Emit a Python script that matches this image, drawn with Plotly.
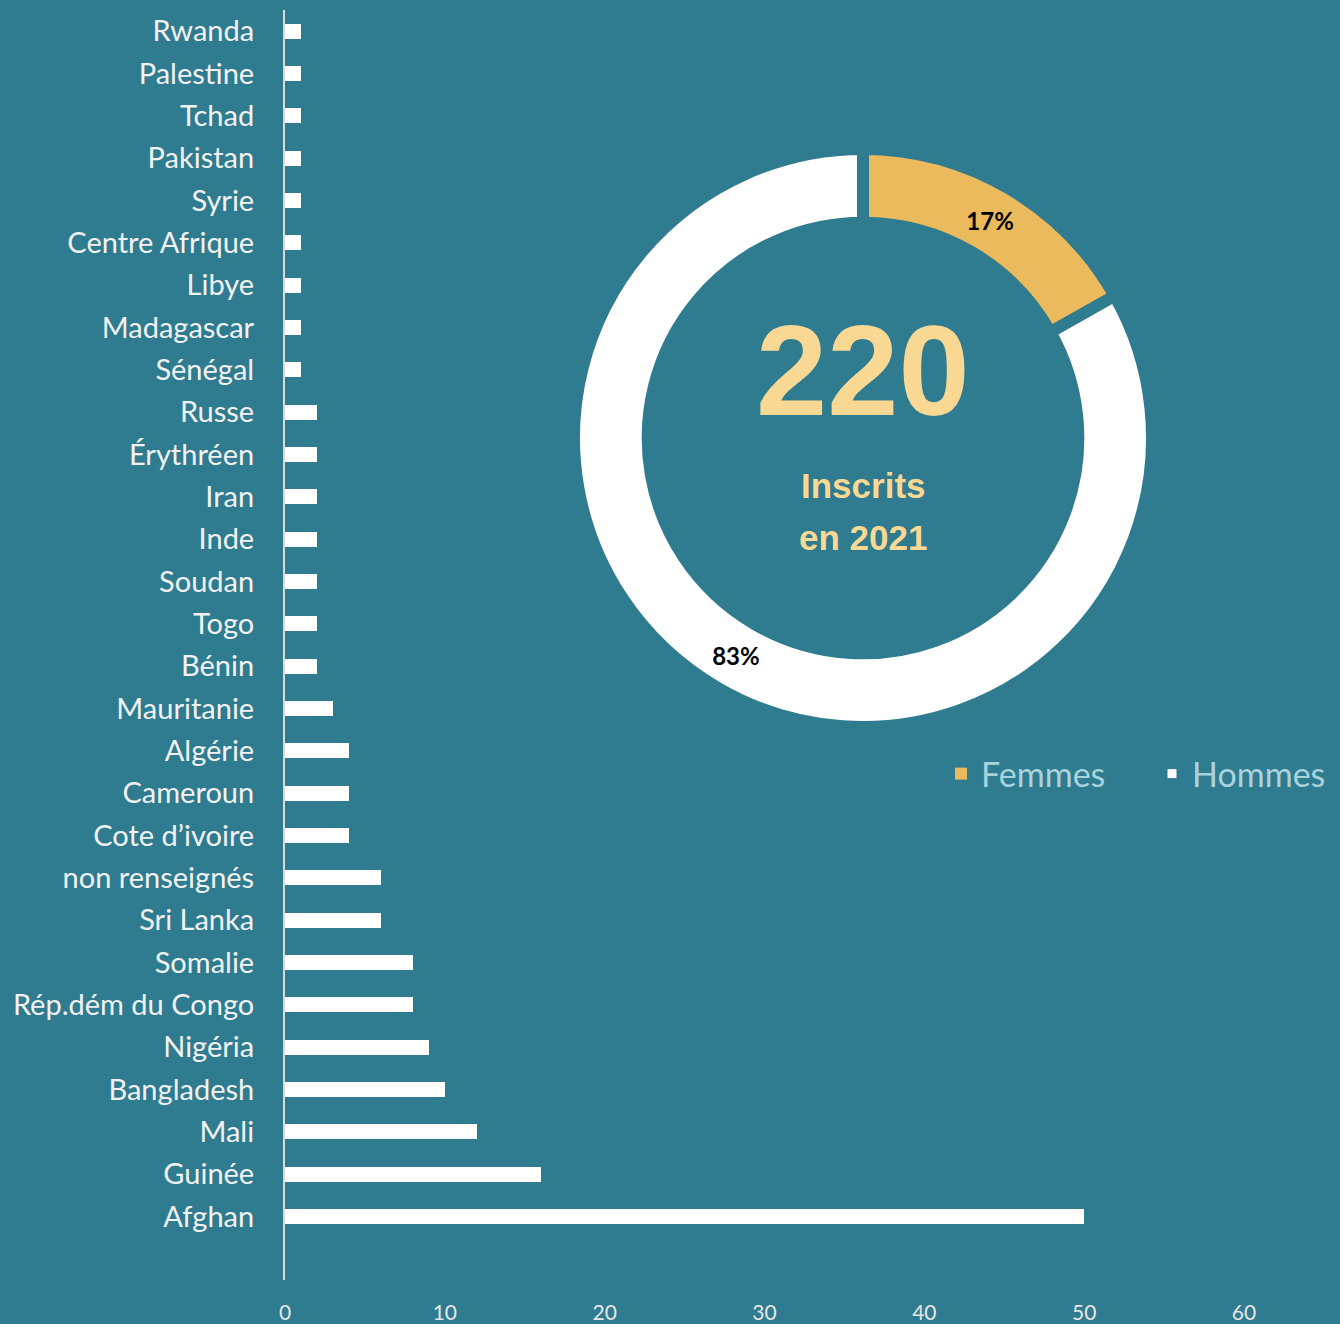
import plotly.graph_objects as go

countries = ["Rwanda", "Palestine", "Tchad", "Pakistan", "Syrie", "Centre Afrique", "Libye",
             "Madagascar", "Sénégal", "Russe", "Érythréen", "Iran", "Inde", "Soudan", "Togo",
             "Bénin", "Mauritanie", "Algérie", "Cameroun", "Cote d’ivoire", "non renseignés",
             "Sri Lanka", "Somalie", "Rép.dém du Congo", "Nigéria", "Bangladesh", "Mali",
             "Guinée", "Afghan"]
counts = [1, 1, 1, 1, 1, 1, 1, 1, 1, 2, 2, 2, 2, 2, 2, 2, 3, 4, 4, 4, 6, 6, 8, 8, 9, 10, 12, 16, 50]

genders = ["Femmes", "Hommes"]
gender_counts = [37, 183]
gender_colors = ["#EBBA5C", "#FFFFFF"]
total_label = "220"
subtitle = ["Inscrits", "en 2021"]
x_ticks = [0, 10, 20, 30, 40, 50, 60]

BG = "#2F7B8F"
W, H = 1340, 1324
ML, MR, MT, MB = 285, 96, 10, 44
PW, PH = W - ML - MR, H - MT - MB


def fx(px):
    return (px - ML) / PW


def fy(py):
    return (H - MB - py) / PH


fig = go.Figure()
fig.add_trace(go.Bar(
    x=counts, y=countries, orientation="h", width=0.36,
    marker=dict(color="white", line=dict(width=0)), showlegend=False,
))

cx, cy, R = 863, 438, 289
fig.add_trace(go.Pie(
    labels=genders, values=gender_counts, hole=0.745, sort=False,
    direction="clockwise", rotation=0,
    marker=dict(colors=gender_colors, line=dict(color=BG, width=12)),
    texttemplate="<b>%{percent:.0%}</b>", textposition="inside",
    insidetextorientation="horizontal",
    textfont=dict(family="Lato", size=24, color="black"),
    domain=dict(x=[fx(cx - R), fx(cx + R)], y=[fy(cy + R), fy(cy - R)]),
    showlegend=False,
))

# legend entries (square markers) for the donut categories
for name, col, sz in zip(genders, gender_colors, [12, 9]):
    fig.add_trace(go.Scatter(
        x=[None], y=[None], mode="markers", name=name,
        marker=dict(symbol="square", size=sz, color=col, line=dict(width=0)),
        showlegend=True,
    ))

fig.add_annotation(text=f"<b>{total_label}</b>", x=fx(863), y=fy(370), xref="paper", yref="paper",
                   showarrow=False, xanchor="center", yanchor="middle",
                   font=dict(family="Liberation Sans", size=128, color="#F8D893"))
fig.add_annotation(text=f"<b>{subtitle[0]}</b>", x=fx(863), y=fy(485), xref="paper", yref="paper",
                   showarrow=False, xanchor="center", yanchor="middle",
                   font=dict(family="Liberation Sans", size=35, color="#F8D893"))
fig.add_annotation(text=f"<b>{subtitle[1]}</b>", x=fx(863), y=fy(537), xref="paper", yref="paper",
                   showarrow=False, xanchor="center", yanchor="middle",
                   font=dict(family="Liberation Sans", size=35, color="#F8D893"))

fig.update_layout(
    width=W, height=H,
    margin=dict(l=ML, r=MR, t=MT, b=MB, pad=0, autoexpand=False),
    paper_bgcolor=BG, plot_bgcolor=BG,
    font=dict(family="Lato", color="#F2F2F2"),
    xaxis=dict(range=[0, 60], tickvals=x_ticks, showgrid=False, zeroline=False, showline=False,
               ticks="", ticklabelstandoff=18, tickfont=dict(family="Lato", size=21, color="#E6E6E6"),
               fixedrange=True),
    yaxis=dict(categoryorder="array", categoryarray=countries, range=[29.5, -0.5],
               showgrid=False, zeroline=False, showline=True, linecolor="#D9D9D9", linewidth=2,
               ticks="", ticklabelstandoff=23, tickfont=dict(family="Lato", size=29, color="#F2F2F2")),
    legend=dict(orientation="h", x=fx(941), y=fy(774), xanchor="left", yanchor="middle",
                font=dict(family="Lato", size=34, color="#A8D3DC"), bgcolor="rgba(0,0,0,0)",
                entrywidth=166),
    bargap=0,
)

fig.write_html("out.html", config={"displayModeBar": False},
               post_script="document.body.style.margin='0';")
